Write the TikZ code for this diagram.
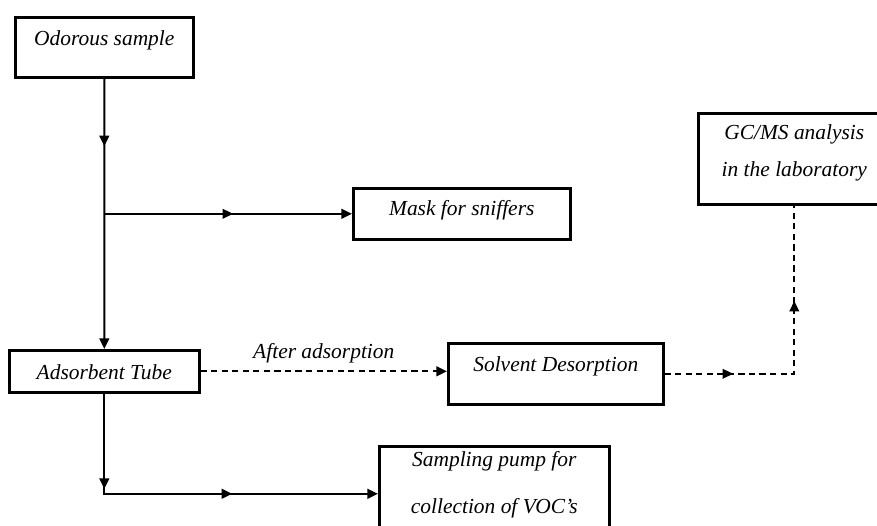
\documentclass[tikz,border=0pt]{standalone}
\usepackage{fontspec}
\setmainfont{Liberation Serif}
\usetikzlibrary{arrows.meta,decorations.markings}

\begin{document}
\begin{tikzpicture}[x=0.02cm, y=-0.02cm,
    midarrow/.style={postaction={decorate, decoration={markings, mark=at position #1 with {\arrow{>}}}}}]
    % Define styles
    \tikzstyle{box} = [rectangle, draw=black, line width=1.5pt, inner sep=0pt, anchor=north west, align=center, font=\itshape\fontsize{12.2}{14.6}\selectfont]
    \tikzstyle{line} = [line width=1.1pt, >={Triangle[length=6pt,width=5.5pt]}]
    \tikzstyle{arrow} = [line, ->]
    \tikzstyle{dashline} = [line, dash pattern=on 3.5pt off 2.5pt]
    \tikzstyle{dasharrow} = [dashline, ->]

    \useasboundingbox (0,0) rectangle (877,526);

    % Nodes
    \node (odor) [box, minimum width=3.56cm, text height=0.56cm, text depth=0.64cm] at (14,16) {Odorous sample};
    \node (mask) [box, minimum width=4.34cm, text height=0.54cm, text depth=0.48cm] at (352,187) {Mask for sniffers};
    \node (tube) [box, minimum width=3.8cm, text height=0.58cm, text depth=0.26cm] at (8,349) {Adsorbent Tube};
    \node (solvent) [box, minimum width=4.3cm, text height=0.56cm, text depth=0.66cm] at (447,342) {Solvent Desorption};
    \node (gcms) [box, minimum width=3.84cm, text height=1.26cm, text depth=0.56cm, font=\itshape\fontsize{12.2}{21}\selectfont] at (697,112) {GC/MS analysis\\in the laboratory};
    \node (pump) [box, minimum width=4.6cm, text height=1.34cm, text depth=0.56cm, font=\itshape\fontsize{12.2}{26.7}\selectfont] at (378,445) {Sampling pump for\\collection of VOC's};
    \coordinate (split) at (odor.south |- mask.west);

    % Arrows
    \draw [arrow, midarrow=0.25] (odor) -- (tube);
    \draw [arrow, midarrow=0.52] (split) -- (mask.west);
    \draw [arrow, midarrow=0.255, midarrow=0.61] (tube) |- (pump.west);
    \draw [dasharrow] (tube) -- (tube -| solvent.west) node (after) [midway, above=1pt, font=\itshape\fontsize{12.2}{14.6}\selectfont] {After adsorption};
    \draw [dashline, midarrow=0.23, midarrow=0.68] (solvent) -| (gcms.south);
\end{tikzpicture}
\end{document}
